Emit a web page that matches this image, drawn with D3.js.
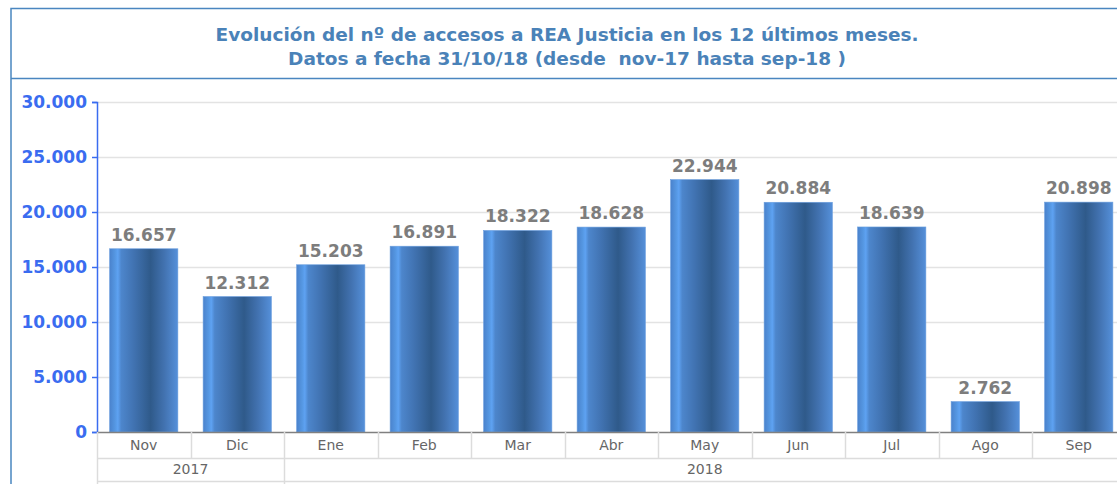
<!DOCTYPE html>
<html>
<head>
<meta charset="utf-8">
<script src="https://cdn.jsdelivr.net/npm/d3@7"></script>
<style>
  body { margin: 0; background: #fff; }
  svg { display: block; }
</style>
</head>
<body>
<script>
// datos: accesos mensuales
var meses = ["Nov","Dic","Ene","Feb","Mar","Abr","May","Jun","Jul","Ago","Sep"];
var accesos = [16657,12312,15203,16891,18322,18628,22944,20884,18639,2762,20898];
var anios = ["2017","2018"];
var mesesPorAnio = [2,9];
var yTicks = [0,5000,10000,15000,20000,25000,30000];
var titulo = ["Evolución del nº de accesos a REA Justicia en los 12 últimos meses.",
              "Datos a fecha 31/10/18 (desde  nov-17 hasta sep-18 )"];

var W = 1117, H = 484;
var svg = d3.select("body").append("svg").attr("width", W).attr("height", H);

var fmt = function(v) { return d3.format(",")(v).replace(/,/g, "."); };

// marco
svg.append("rect").attr("x", 11).attr("y", 8.5).attr("width", W + 20).attr("height", H + 20)
    .attr("fill", "none").attr("stroke", "#4a86c0").attr("stroke-width", 1.5);
svg.append("line").attr("x1", 11).attr("x2", W).attr("y1", 78.5).attr("y2", 78.5)
    .attr("stroke", "#4a86c0").attr("stroke-width", 1.5);

svg.append("g").selectAll("text").data(titulo).enter().append("text")
    .attr("x", 567).attr("y", function(d, i) { return 41 + i * 24; })
    .attr("text-anchor", "middle")
    .style("white-space", "pre")
    .style("font-family", "'DejaVu Sans', sans-serif")
    .style("font-weight", "bold").style("font-size", "18.5px")
    .attr("fill", "#4a82b8")
    .text(function(d) { return d; });

var pLeft = 97, pRight = 1125.5, pTop = 102, pBottom = 432;
var x = d3.scaleBand().domain(meses).range([pLeft, pRight]).paddingInner(0.27).paddingOuter(0.135);
var y = d3.scaleLinear().domain([0, 30000]).range([pBottom, pTop]);

// rejilla
svg.append("g").selectAll("line").data(yTicks.slice(1)).enter().append("line")
    .attr("x1", pLeft).attr("x2", W).attr("y1", function(d) { return y(d) + 0.5; })
    .attr("y2", function(d) { return y(d) + 0.5; })
    .attr("stroke", "#e3e3e3").attr("stroke-width", 1.5);

// gradiente de barras
var grad = svg.append("defs").append("linearGradient").attr("id", "gb")
    .attr("x1", "0%").attr("x2", "100%").attr("y1", "0%").attr("y2", "0%");
[[0, "#4a82cc"], [0.08, "#5597e2"], [0.12, "#5ea2f2"], [0.17, "#4d86cc"], [0.35, "#4173b2"],
 [0.6, "#2f5a8a"], [0.8, "#4272b0"], [1, "#5590da"]].forEach(function(s) {
  grad.append("stop").attr("offset", s[0]).attr("stop-color", s[1]);
});

var datos = meses.map(function(m, i) { return { mes: m, v: accesos[i] }; });

svg.append("g").selectAll("rect").data(datos).enter().append("rect")
    .attr("x", function(d) { return x(d.mes); })
    .attr("width", x.bandwidth())
    .attr("y", function(d) { return y(d.v); })
    .attr("height", function(d) { return pBottom - y(d.v); })
    .attr("fill", "url(#gb)")
    .attr("stroke", "#6a9ede").attr("stroke-width", 0.6);

svg.append("g").selectAll("text").data(datos).enter().append("text")
    .attr("x", function(d) { return x(d.mes) + x.bandwidth() / 2; })
    .attr("y", function(d) { return y(d.v) - 8; })
    .attr("text-anchor", "middle")
    .style("font-family", "'DejaVu Sans', sans-serif")
    .style("font-weight", "bold").style("font-size", "17px")
    .attr("fill", "#7d7d7d")
    .text(function(d) { return fmt(d.v); });

// eje y
var yAxis = svg.append("g").attr("transform", "translate(" + pLeft + ",0)")
    .call(d3.axisLeft(y).tickValues(yTicks).tickSize(5).tickFormat(fmt));
yAxis.select(".domain").attr("stroke", "#3a6cf0").attr("stroke-width", 1.5);
yAxis.selectAll(".tick line").attr("stroke", "#3a6cf0").attr("stroke-width", 1.5);
yAxis.selectAll(".tick text").attr("fill", "#3a6cf0")
    .style("font-family", "'DejaVu Sans', sans-serif")
    .style("font-weight", "bold").style("font-size", "17px").attr("x", -10);

// eje x: meses
svg.append("line").attr("x1", pLeft).attr("x2", W).attr("y1", pBottom + 0.5).attr("y2", pBottom + 0.5)
    .attr("stroke", "#808080").attr("stroke-width", 1.5);
var step = x.step();
var gx = svg.append("g");
meses.forEach(function(m, i) {
  var xs = x(m) - x.paddingInner() * step / 2;
  gx.append("line").attr("x1", Math.round(xs) + 0.5).attr("x2", Math.round(xs) + 0.5)
      .attr("y1", pBottom).attr("y2", 459).attr("stroke", "#dcdcdc").attr("stroke-width", 1.5);
  gx.append("text").attr("x", x(m) + x.bandwidth() / 2).attr("y", 450)
      .attr("text-anchor", "middle")
      .style("font-family", "'DejaVu Sans', sans-serif").style("font-size", "14px")
      .attr("fill", "#666").text(m);
});
gx.append("line").attr("x1", pLeft).attr("x2", W).attr("y1", 458.5).attr("y2", 458.5)
    .attr("stroke", "#dcdcdc").attr("stroke-width", 1.5);
gx.append("line").attr("x1", pLeft).attr("x2", W).attr("y1", 481.5).attr("y2", 481.5)
    .attr("stroke", "#dcdcdc").attr("stroke-width", 1.5);

// eje x: años
var pos = 0;
anios.forEach(function(a, k) {
  var xa = pLeft + pos * step;
  var xb = pLeft + (pos + mesesPorAnio[k]) * step;
  gx.append("line").attr("x1", Math.round(xa) + 0.5).attr("x2", Math.round(xa) + 0.5)
      .attr("y1", 459).attr("y2", 484).attr("stroke", "#dcdcdc").attr("stroke-width", 1.5);
  gx.append("text").attr("x", (xa + xb) / 2).attr("y", 474)
      .attr("text-anchor", "middle")
      .style("font-family", "'DejaVu Sans', sans-serif").style("font-size", "14px")
      .attr("fill", "#666").text(a);
  pos += mesesPorAnio[k];
});
</script>
</body>
</html>
